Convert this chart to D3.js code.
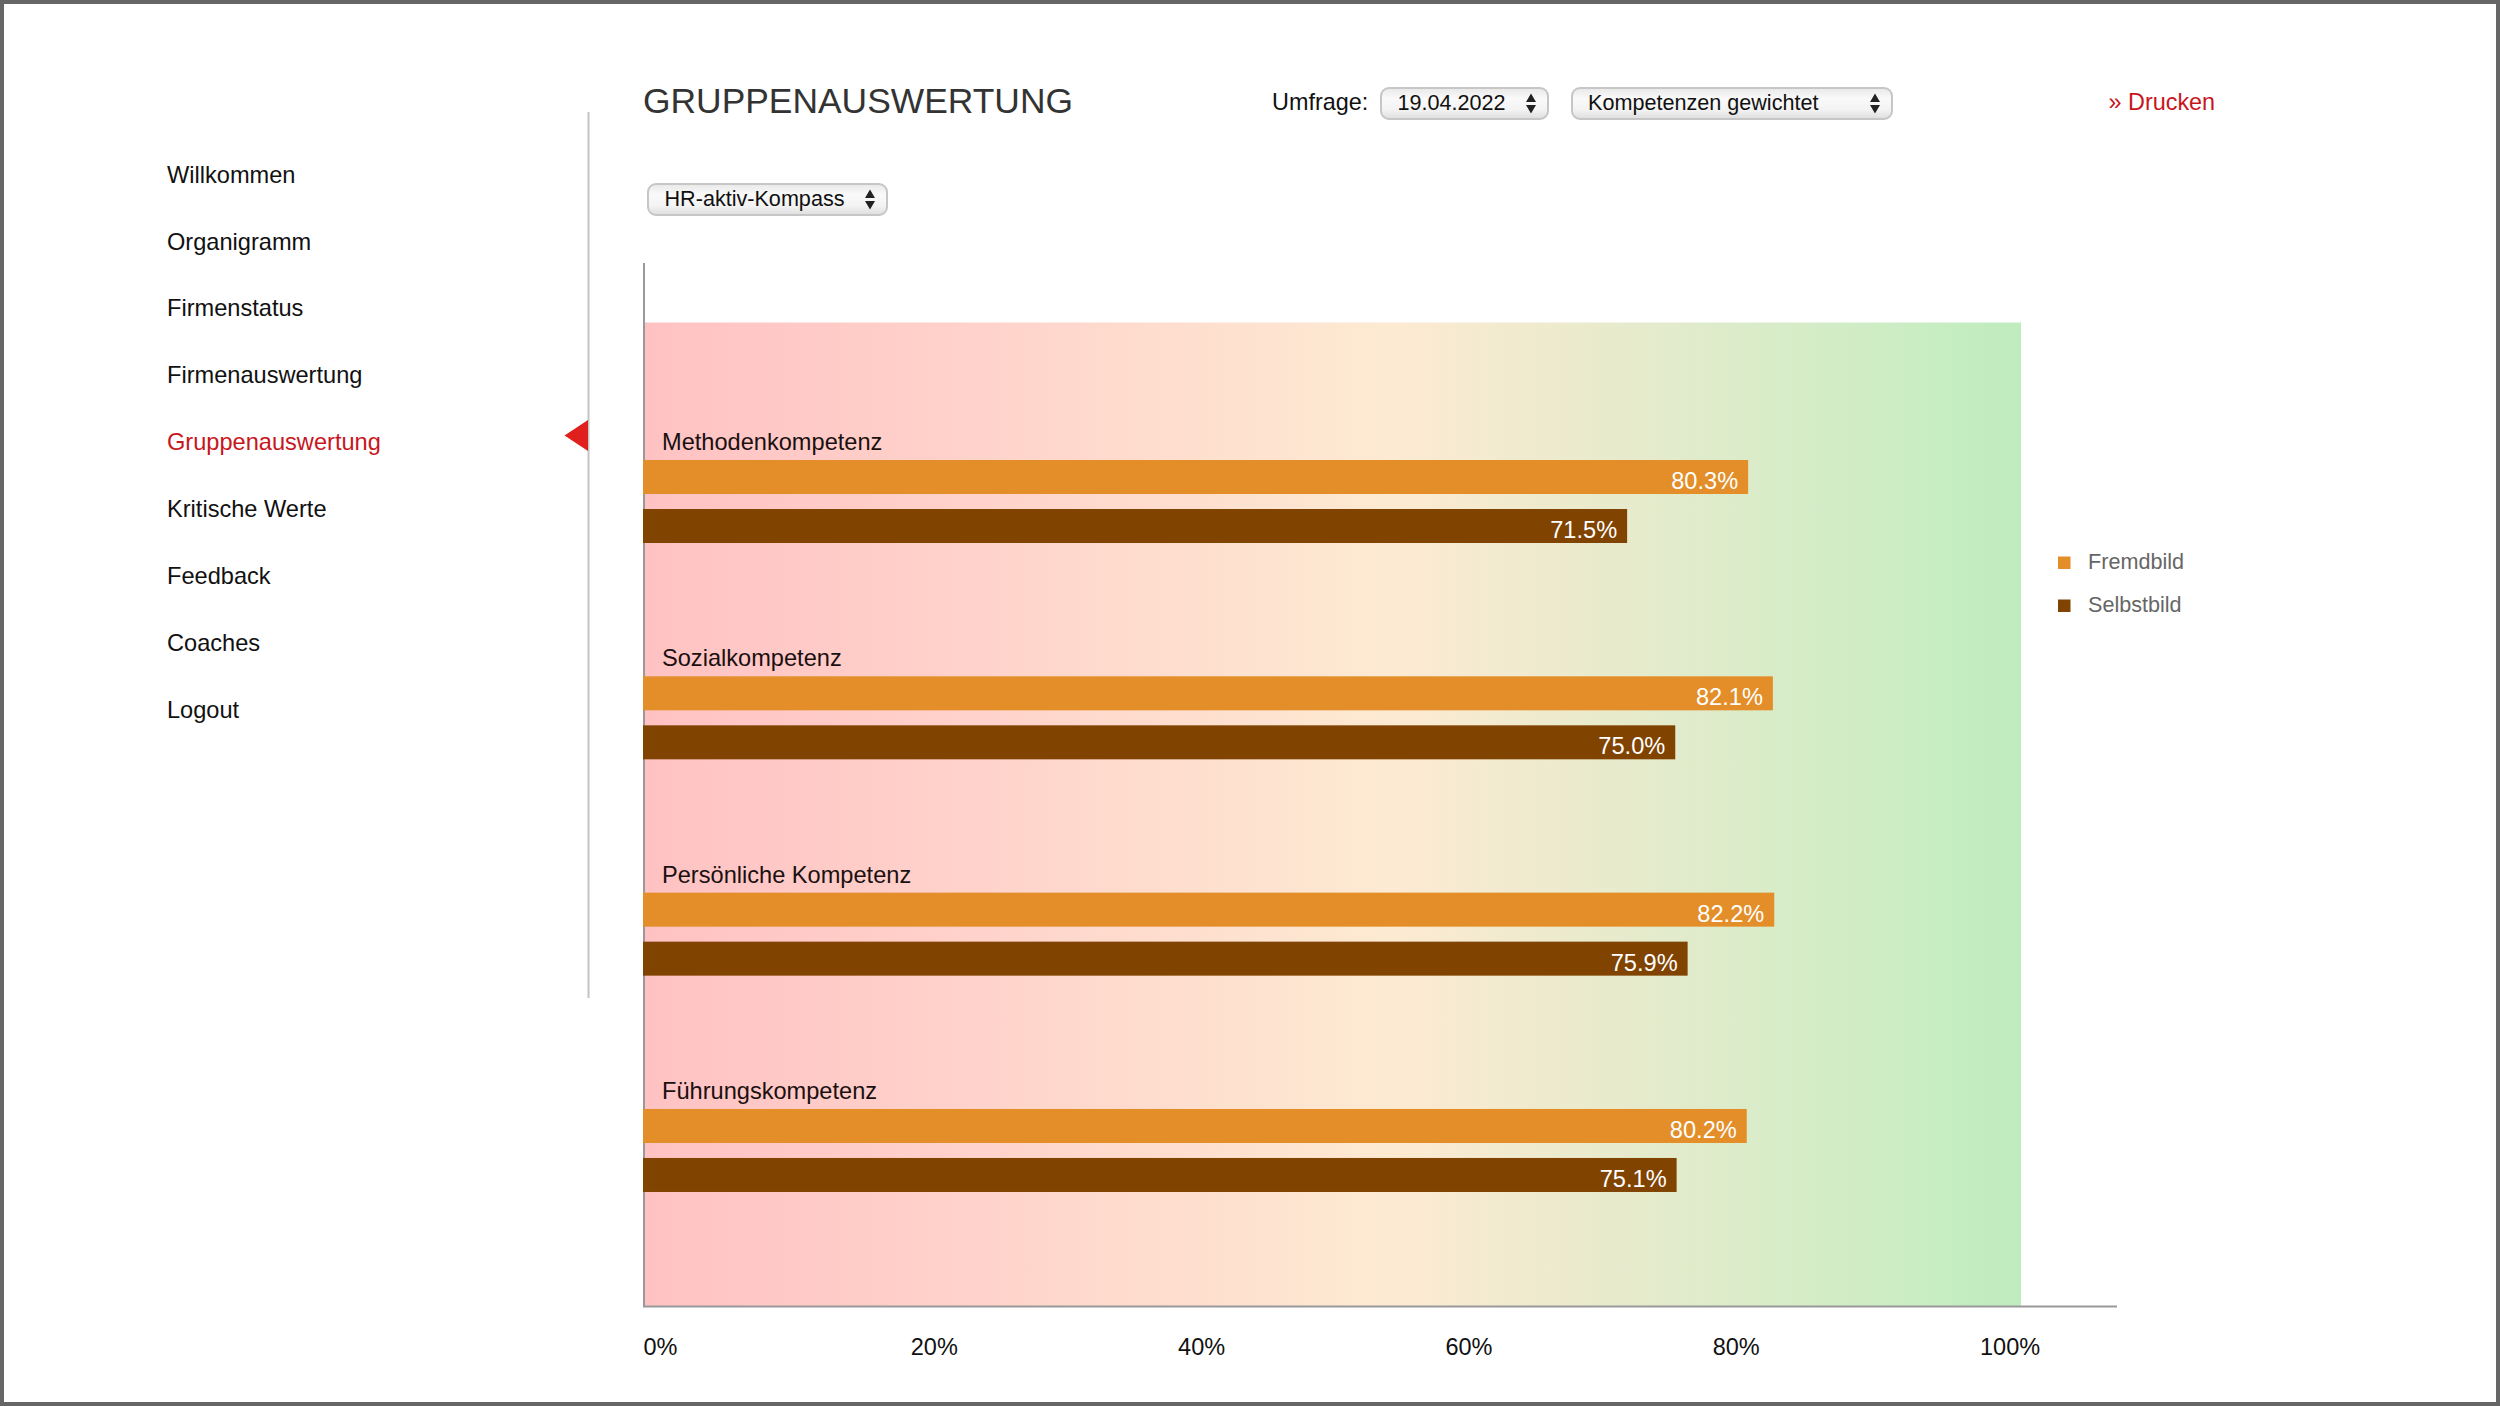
<!DOCTYPE html>
<html>
<head>
<meta charset="utf-8">
<title>Gruppenauswertung</title>
<script src="https://cdn.jsdelivr.net/npm/d3@7"></script>
<style>
    html, body { margin: 0; padding: 0; background: #fff; }
    svg { display: block; }
    text { font-family: "Liberation Sans", Arial, sans-serif; }
</style>
</head>
<body>
<svg id="chart" width="2500" height="1406"></svg>
<script>
// chart values
const categories = ["Methodenkompetenz", "Sozialkompetenz", "Persönliche Kompetenz", "Führungskompetenz"];
const seriesNames = ["Fremdbild", "Selbstbild"];
const fremdbild = [80.3, 82.1, 82.2, 80.2];
const selbstbild = [71.5, 75.0, 75.9, 75.1];
const tickValues = [0, 20, 40, 60, 80, 100];
const menuItems = ["Willkommen", "Organigramm", "Firmenstatus", "Firmenauswertung", "Gruppenauswertung", "Kritische Werte", "Feedback", "Coaches", "Logout"];
const activeItem = "Gruppenauswertung";

const seriesColors = ["#e38e28", "#804300"];
const red = "#c8161d";

const svg = d3.select("#chart");
const defs = svg.append("defs");

// background gradient of the plot
const bgGrad = defs.append("linearGradient").attr("id", "bgGrad");
[[0, "#ffc2c3"], [0.25, "#ffd3cb"], [0.54, "#fdead2"], [0.75, "#e2ebcb"], [0.9, "#cdedc5"], [1, "#bfecbf"]].forEach(s => {
    bgGrad.append("stop").attr("offset", s[0]).attr("stop-color", s[1]);
});

const selectGrad = defs.append("linearGradient").attr("id", "selectGrad")
    .attr("x1", 0).attr("x2", 0).attr("y1", 0).attr("y2", 1);
[[0, "#e8e8e8"], [0.35, "#fafafa"], [0.7, "#f3f3f3"], [1, "#dedede"]].forEach(s => {
    selectGrad.append("stop").attr("offset", s[0]).attr("stop-color", s[1]);
});

// scales
const x = d3.scaleLinear().domain([0, 100]).range([644, 2019]);
const xLabels = d3.scaleLinear().domain([0, 100]).range([643, 1979.5]); // tick labels run on a shorter span than the bars
const y = d3.scaleBand().domain(categories).range([460, 1325.3]);
const ySeries = d3.scaleBand().domain(seriesNames).range([0, 83]).paddingInner(15 / 49);

// plot background
svg.append("rect")
    .attr("x", x(0)).attr("y", 322.5)
    .attr("width", 2021 - x(0)).attr("height", 1306 - 322.5)
    .attr("fill", "url(#bgGrad)");

// axes
const xAxis = d3.axisBottom(xLabels)
    .tickValues(tickValues)
    .tickFormat(d => d + "%")
    .tickSize(0)
    .tickPadding(0);
const xAxisG = svg.append("g")
    .attr("transform", "translate(0,1333)")
    .call(xAxis);
xAxisG.select(".domain").remove();
xAxisG.selectAll("text")
    .attr("text-anchor", "start")
    .attr("dy", null)
    .attr("y", 22)
    .style("font-family", '"Liberation Sans", Arial, sans-serif')
    .style("font-size", "23.5px")
    .attr("fill", "#111");

svg.append("line").attr("x1", 644).attr("x2", 644).attr("y1", 263).attr("y2", 1307)
    .attr("stroke", "#999").attr("stroke-width", 2);
svg.append("line").attr("x1", 643).attr("x2", 2117).attr("y1", 1306.5).attr("y2", 1306.5)
    .attr("stroke", "#999").attr("stroke-width", 2);

// bars
const rows = categories.map((c, i) => ({ category: c, values: [fremdbild[i], selbstbild[i]] }));
const group = svg.append("g").selectAll("g")
    .data(rows)
    .join("g")
    .attr("transform", d => `translate(0,${y(d.category)})`);

group.append("text")
    .attr("x", 662)
    .attr("y", -10)
    .attr("fill", "#1a1010")
    .style("font-size", "23.6px")
    .text(d => d.category);

group.selectAll("rect")
    .data(d => d.values)
    .join("rect")
    .attr("x", x(0) - 1)
    .attr("y", (d, i) => ySeries(seriesNames[i]))
    .attr("width", d => x(d) - x(0) + 1)
    .attr("height", ySeries.bandwidth())
    .attr("fill", (d, i) => seriesColors[i]);

group.selectAll("text.value")
    .data(d => d.values)
    .join("text")
    .attr("class", "value")
    .attr("x", d => x(d) - 10)
    .attr("y", (d, i) => ySeries(seriesNames[i]) + ySeries.bandwidth() - 5)
    .attr("text-anchor", "end")
    .attr("fill", "#fff")
    .style("font-size", "23.6px")
    .text(d => d.toFixed(1) + "%");

// legend
const legend = svg.append("g").selectAll("g")
    .data(seriesNames)
    .join("g")
    .attr("transform", (d, i) => `translate(2058,${556.5 + i * 43})`);
legend.append("rect")
    .attr("width", 12.5).attr("height", 12.5)
    .attr("fill", (d, i) => seriesColors[i]);
legend.append("text")
    .attr("x", 30).attr("y", 12)
    .attr("fill", "#666")
    .style("font-size", "21.6px")
    .text(d => d);

// left menu
svg.append("g").selectAll("text")
    .data(menuItems)
    .join("text")
    .attr("x", 167)
    .attr("y", (d, i) => 182.6 + i * 66.9)
    .attr("fill", d => d === activeItem ? red : "#111")
    .style("font-size", "23.6px")
    .text(d => d);

svg.append("line").attr("x1", 588.5).attr("x2", 588.5).attr("y1", 112).attr("y2", 998)
    .attr("stroke", "#c4c4c4").attr("stroke-width", 2);
svg.append("path").attr("d", "M564.5,435.5L588,420L588,451Z").attr("fill", "#e0201c");

// header
svg.append("text").attr("x", 643).attr("y", 113)
    .attr("fill", "#333").style("font-size", "35.4px")
    .text("GRUPPENAUSWERTUNG");
svg.append("text").attr("x", 1272).attr("y", 110)
    .attr("fill", "#111").style("font-size", "23.4px")
    .text("Umfrage:");
svg.append("text").attr("x", 2108.5).attr("y", 110)
    .attr("fill", red).style("font-size", "23.4px")
    .text("» Drucken");

function drawSelect(left, right, top, bottom, textX, baseline, arrowX, label) {
    const g = svg.append("g");
    g.append("rect")
        .attr("x", left + 1).attr("y", top + 1)
        .attr("width", right - left - 2).attr("height", bottom - top - 2)
        .attr("rx", 8)
        .attr("fill", "url(#selectGrad)")
        .attr("stroke", "#c6c6c6").attr("stroke-width", 2);
    g.append("text").attr("x", textX).attr("y", baseline)
        .attr("fill", "#111").style("font-size", "21.6px")
        .text(label);
    const mid = (top + bottom) / 2;
    g.append("path")
        .attr("d", `M${arrowX - 5},${mid - 1.5}L${arrowX + 5},${mid - 1.5}L${arrowX},${mid - 10}Z`
            + `M${arrowX - 5},${mid + 1.5}L${arrowX + 5},${mid + 1.5}L${arrowX},${mid + 10}Z`)
        .attr("fill", "#222");
}

drawSelect(1380, 1549, 87, 120, 1397.5, 109.8, 1531, "19.04.2022");
drawSelect(1571, 1893, 87, 120, 1588, 109.8, 1875, "Kompetenzen gewichtet");
drawSelect(647, 888, 183, 216, 664.5, 206.3, 870, "HR-aktiv-Kompass");

// frame around the screenshot
svg.append("rect")
    .attr("x", 2).attr("y", 2)
    .attr("width", 2496).attr("height", 1402)
    .attr("fill", "none")
    .attr("stroke", "#666").attr("stroke-width", 4);
</script>
</body>
</html>
